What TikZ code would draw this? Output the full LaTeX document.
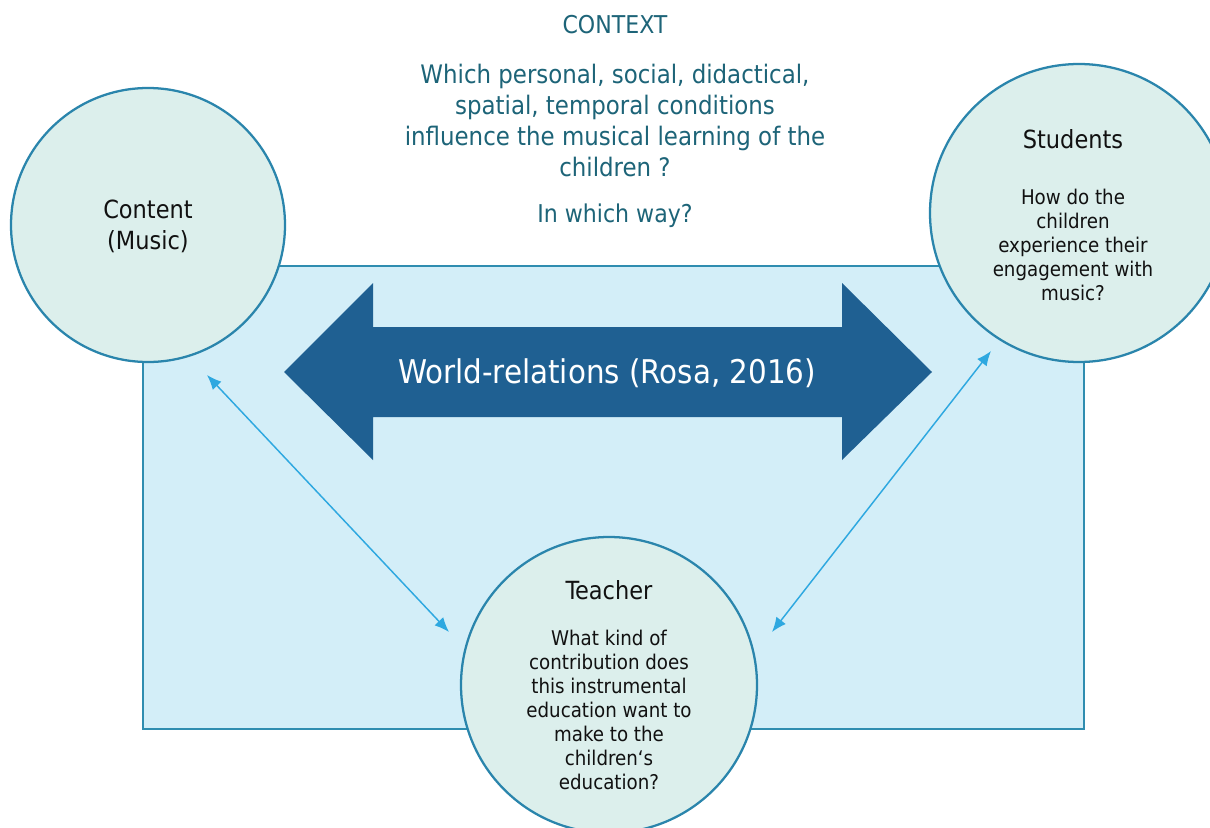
\documentclass[tikz,border=0pt]{standalone}
\usepackage{fontspec}
\setmainfont{DejaVu Sans Condensed}
\usetikzlibrary{arrows.meta}
\definecolor{rectfill}{HTML}{D3EEF8}
\definecolor{rectline}{HTML}{2F8DB0}
\definecolor{circlefill}{HTML}{DCEFEC}
\definecolor{circleline}{HTML}{2A85AC}
\definecolor{arrowblue}{HTML}{1F6092}
\definecolor{linkblue}{HTML}{2EA8E0}
\definecolor{headblue}{HTML}{1D6478}
\definecolor{ink}{HTML}{111111}
\begin{document}
\begin{tikzpicture}[x=0.75pt,y=-0.75pt,
  bubble/.style={circle, draw=circleline, fill=circlefill, line width=1.7pt, inner sep=0pt},
  title/.style={text=headblue, font=\fontsize{18.4}{23.25}\selectfont, align=center},
  question/.style={text=headblue, font=\fontsize{19.1}{23.25}\selectfont, align=center},
  ctitle/.style={text=ink, font=\fontsize{18.75}{23.25}\selectfont, align=center},
  cbody/.style={text=ink, font=\fontsize{15.2}{18}\selectfont, align=center},
  link/.style={draw=linkblue, line width=1.1pt, {Latex[length=11pt,width=9pt]}-{Latex[length=11pt,width=9pt]}}]
\useasboundingbox (0,0) rectangle (1210,828);
\clip (0,0) rectangle (1210,828);
\fill[white] (0,0) rectangle (1210,828);
\node[draw=rectline, fill=rectfill, line width=1.6pt, minimum width=705.75pt, minimum height=347.25pt, inner sep=0pt] (frame) at (613.5,497.5) {};
\fill[arrowblue] (284,372) -- (373,283) -- (373,327) -- (842,327) -- (842,283) -- (932,372) -- (842,460) -- (842,417) -- (373,417) -- (373,460) -- cycle;
\node[text=white, font=\fontsize{24.5}{28}\selectfont] (wr) at (607,373) {World-relations (Rosa, 2016)};
\node[bubble, minimum size=205.5pt] (content) at (148,225) {};
\node[bubble, minimum size=223.5pt] (students) at (1079,213) {};
\node[bubble, minimum size=222pt] (teacher) at (609,685) {};
\coordinate (c1) at (207,375);
\coordinate (t1) at (449,632);
\coordinate (s1) at (991,351);
\coordinate (t2) at (772,632);
\draw[link] (c1) -- (t1);
\draw[link] (s1) -- (t2);
\node[title] (ctx) at (615,25) {CONTEXT};
\node[question] (q) at (615,121) {Which personal, social, didactical,\\ spatial, temporal conditions\\ influence the musical learning of the\\ children ?};
\node[title] (way) at (615,216) {In which way?};
\node[ctitle] (contentT) at (148,226) {Content\\(Music)};
\node[ctitle] (studT) at (1073,139) {Students};
\node[cbody] (studB) at (1073,245) {How do the\\children\\experience their\\engagement with\\music?};
\node[ctitle] (teachT) at (609,590) {Teacher};
\node[cbody] (teachB) at (609,710) {What kind of\\contribution does\\this instrumental\\education want to\\make to the\\children‘s\\education?};
\end{tikzpicture}
\end{document}
